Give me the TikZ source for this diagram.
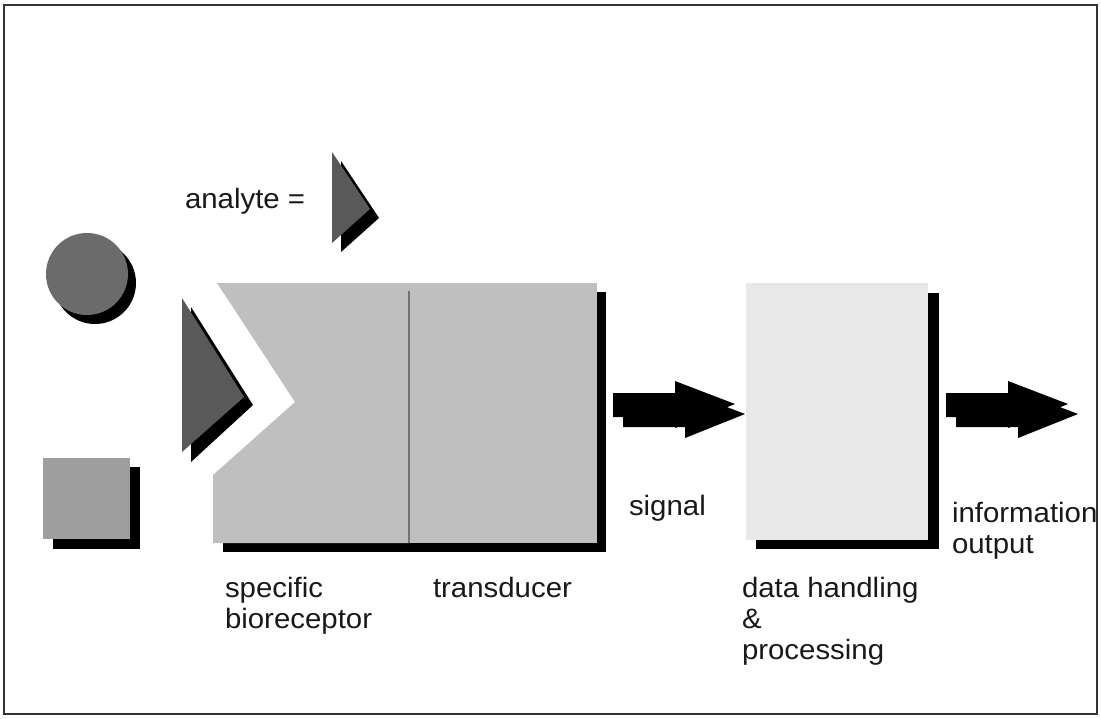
\documentclass[tikz,border=0pt]{standalone}
\usepackage{fontspec}
\setmainfont{Liberation Sans}[FakeStretch=1.05]
\begin{document}
\begin{tikzpicture}[x=1pt,y=-1pt,
  shadowfill/.style={fill=black,draw=none},
  dark/.style={fill=black!65,draw=none},
  mid/.style={fill=black!38,draw=none},
  light/.style={fill=black!25,draw=none},
  pale/.style={fill=black!9,draw=none},
  lbl/.style={anchor=base west,inner sep=0pt,outer sep=0pt,text=black!90,font=\fontsize{28}{31}\selectfont}]
\useasboundingbox (0,0) rectangle (1101,718);
\fill[white] (0,0) rectangle (1101,718);
% frame
\draw[line width=1.8pt,black!80] (4,5) rectangle (1097,714);

% circle
\fill[shadowfill] (95,283) circle[radius=41];
\fill[fill=black!58] (87,274) circle[radius=41];

% square
\fill[shadowfill] (53,467) rectangle (140,549);
\fill[mid] (43,458) rectangle (130,539);

% analyte triangle (legend)
\fill[shadowfill] (341,161) -- (341,252) -- (379,218) -- cycle;
\fill[dark] (332,152) -- (332,243) -- (370,209) -- cycle;

% triangle in front of bioreceptor
\fill[shadowfill] (191,307) -- (191,462) -- (253,405) -- cycle;
\fill[dark] (182,298) -- (182,452) -- (244,397) -- cycle;

% bioreceptor + transducer shadow
\fill[shadowfill] (223,543) rectangle (606,552);
\fill[shadowfill] (597,292) rectangle (606,552);
% bioreceptor
\fill[light] (217,283) -- (409,283) -- (409,543) -- (213,543) -- (213,475) -- (295,402) -- cycle;
% transducer
\fill[light] (409,283) rectangle (597,543);
\draw[line width=1.2pt,black!55] (409,291) -- (409,543);

% data handling box
\fill[shadowfill] (756,293) rectangle (939,549);
\fill[pale] (746,283) rectangle (928,540);

% arrows
\foreach \dx in {0,333}{
  \foreach \s in {10,0}{
    \fill[black] (613+\dx+\s,393+\s) -- (675+\dx+\s,393+\s) -- (675+\dx+\s,381+\s)
      -- (735+\dx+\s,404+\s) -- (675+\dx+\s,428+\s) -- (675+\dx+\s,417+\s)
      -- (613+\dx+\s,417+\s) -- cycle;
  }
}

% labels
\node[lbl] (analyte) at (185,208) {analyte =};
\node[lbl] (spec) at (225,597) {specific};
\node[lbl] (bio) at (225,628) {bioreceptor};
\node[lbl] (trans) at (433,597) {transducer};
\node[lbl] (signal) at (629,515) {signal};
\node[lbl] (data) at (742,597) {data handling};
\node[lbl] (amp) at (742,628) {\&};
\node[lbl] (proc) at (742,659) {processing};
\node[lbl] (info) at (952,522) {information};
\node[lbl] (out) at (952,553) {output};
\end{tikzpicture}
\end{document}
